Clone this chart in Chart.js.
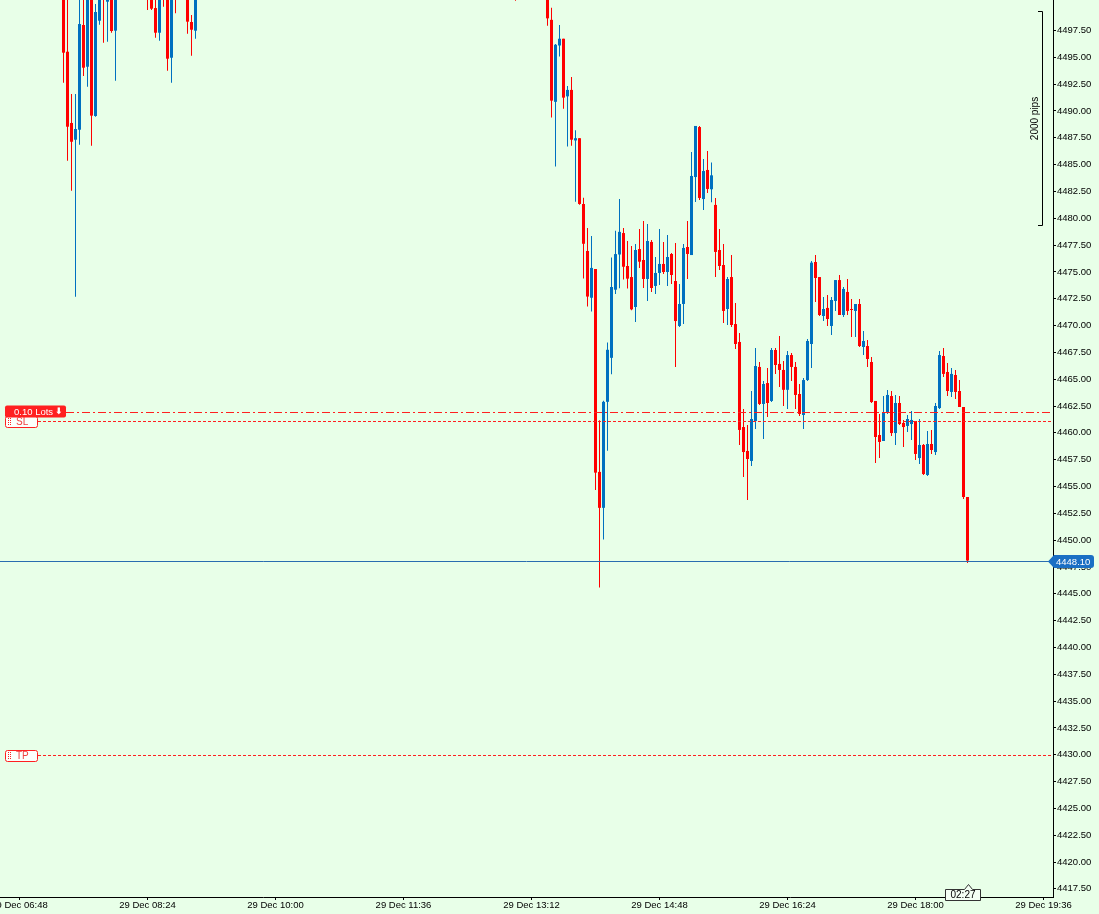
<!DOCTYPE html>
<html><head><meta charset="utf-8">
<script src="https://cdn.jsdelivr.net/npm/chart.js@4.4.1/dist/chart.umd.min.js"></script>
<style>html,body{margin:0;padding:0;background:#e8ffe8;overflow:hidden}canvas{display:block}</style>
</head><body><canvas id="c" width="1099" height="914"></canvas>
<script>
// ---------- data (3-minute bars, 29 Dec) ----------
const barTimes = [
'07:21','07:24','07:27','07:30','07:33','07:36','07:39','07:42','07:45','07:48','07:51','07:54','07:57','08:00',
'08:24','08:27','08:30','08:33','08:36','08:39','08:42','08:45',
'08:54','08:57','09:00',
'13:00',
'13:24','13:27','13:30','13:33','13:36','13:39','13:42','13:45','13:48','13:51','13:54','13:57',
'14:00','14:03','14:06','14:09','14:12','14:15','14:18','14:21','14:24','14:27','14:30','14:33','14:36','14:39','14:42','14:45','14:48','14:51','14:54','14:57',
'15:00','15:03','15:06','15:09','15:12','15:15','15:18','15:21','15:24','15:27','15:30','15:33','15:36','15:39','15:42','15:45','15:48','15:51','15:54','15:57',
'16:00','16:03','16:06','16:09','16:12','16:15','16:18','16:21','16:24','16:27','16:30','16:33','16:36','16:39','16:42','16:45','16:48','16:51','16:54','16:57',
'17:00','17:03','17:06','17:09','17:12','17:15','17:18','17:21','17:24','17:27','17:30','17:33','17:36','17:39','17:42','17:45','17:48','17:51','17:54','17:57',
'18:00','18:03','18:06','18:09','18:12','18:15','18:18','18:21','18:24','18:27','18:30','18:33','18:36','18:39'
];
const openP = [
4502.0,4495.52,4488.88,4487.32,4488.25,4498.01,4494.12,4501.6,4489.53,4498.41,4502.0,4500.18,4501.5,4497.48,
4503.0,4502.0,4499.59,4497.29,4502.5,4501.8,4494.96,4502.5,
4502.0,4498.29,4497.48,
4502.0,
4502.0,4498.49,4490.85,4496.10,4496.73,4491.36,4491.96,4487.25,4487.46,4481.33,4476.95,4472.59,
4475.27,4456.36,4453.01,4462.89,4466.99,4473.34,4476.62,4478.62,4475.55,4474.52,4471.73,4477.13,4476.11,4474.34,4477.79,4473.69,4474.90,4475.74,4474.99,4476.67,
4474.15,4469.96,4472.01,4477.32,4476.57,4483.84,4488.50,4481.79,4484.50,4482.70,4481.24,4477.04,4475.64,4471.54,4474.52,4470.14,4468.47,4460.54,4458.31,4457.38,
4461.10,4466.14,4462.69,4464.64,4462.97,4467.72,4466.42,4465.86,4464.01,4467.25,4466.14,4463.62,4461.66,4464.92,4468.28,4475.92,4474.52,4470.89,4471.64,4469.96,
4472.29,4474.24,4470.98,4473.13,4471.54,4471.36,4472.01,4468.00,4468.09,4466.60,4462.97,4459.80,4459.24,4461.85,4463.43,4459.98,4462.78,4460.92,4460.64,4460.82,
4461.10,4457.65,4458.87,4456.07,4458.96,4458.21,4462.31,4467.16,4465.67,4463.81,4465.39,4463.90,4462.41,4454.02
];
const highP = [
4502.6,4502.0,4491.58,4491.58,4502.0,4501.5,4502.2,4502.4,4499.97,4502.0,4502.6,4502.0,4502.0,4501.8,
4503.5,4502.5,4501.0,4501.5,4503.0,4502.5,4501.5,4503.0,
4502.5,4498.94,4502.0,
4502.5,
4502.5,4499.62,4496.24,4498.02,4496.73,4492.32,4493.17,4488.21,4487.46,4481.90,4479.08,4478.34,
4475.27,4461.18,4463.00,4468.42,4476.33,4478.83,4481.79,4479.08,4477.87,4477.41,4477.60,4479.00,4479.74,4479.46,4477.97,4476.39,4479.00,4477.79,4478.44,4476.76,
4477.69,4473.87,4477.60,4479.74,4486.17,4488.60,4488.60,4485.52,4486.27,4485.20,4481.89,4479.00,4477.60,4474.52,4476.57,4472.10,4469.30,4462.22,4460.73,4463.90,
4467.91,4466.60,4464.83,4466.04,4467.91,4467.91,4469.03,4466.69,4467.63,4467.44,4466.60,4464.55,4465.11,4468.75,4476.02,4476.57,4474.52,4472.66,4472.85,4472.66,
4474.24,4474.71,4473.59,4474.34,4472.47,4472.01,4472.47,4469.49,4468.65,4467.07,4462.97,4461.76,4463.43,4463.99,4463.90,4463.53,4463.43,4461.20,4461.66,4462.03,
4461.10,4461.29,4458.96,4460.17,4460.27,4462.78,4467.63,4467.91,4466.51,4466.04,4465.86,4464.92,4462.41,4454.02
];
const lowP = [
4492.63,4485.36,4482.57,4472.69,4486.85,4493.26,4492.26,4486.76,4489.46,4498.04,4496.36,4496.45,4497.29,4492.82,
4499.41,4499.41,4496.83,4496.55,4499.72,4493.75,4492.63,4499.10,
4497.20,4495.15,4496.73,
4500.27,
4497.95,4489.39,4484.82,4495.07,4490.21,4486.68,4486.75,4481.54,4481.26,4474.38,4471.77,4471.31,
4454.68,4445.59,4450.05,4458.33,4465.46,4472.95,4473.48,4474.28,4473.45,4471.42,4470.33,4475.37,4473.50,4472.29,4473.13,4472.94,4473.78,4474.80,4473.68,4473.87,
4466.14,4469.86,4470.14,4474.34,4476.57,4481.51,4481.70,4480.77,4482.35,4481.50,4474.52,4475.18,4470.24,4470.05,4469.86,4467.81,4458.87,4455.88,4453.74,4456.91,
4460.36,4462.59,4459.43,4461.48,4462.87,4465.49,4464.27,4462.50,4462.22,4464.83,4462.22,4461.57,4460.36,4464.83,4466.04,4472.19,4470.89,4470.42,4469.96,4469.12,
4471.36,4470.98,4470.80,4470.98,4468.93,4468.93,4468.00,4467.25,4466.14,4462.78,4457.19,4457.65,4459.24,4461.76,4459.71,4458.87,4460.73,4458.68,4460.08,4459.33,
4457.47,4457.10,4456.07,4455.98,4458.03,4457.93,4462.22,4465.20,4463.43,4463.34,4463.15,4462.41,4453.84,4447.87
];
const closeP = [
4495.43,4488.53,4487.13,4488.32,4498.10,4494.03,4501.8,4489.56,4499.22,4501.2,4500.8,4501.5,4497.45,4501.2,
4501.0,4499.53,4497.29,4501.0,4501.5,4494.87,4501.0,4501.0,
4498.32,4497.57,4501.0,
4501.0,
4498.63,4490.96,4496.17,4496.73,4491.24,4491.96,4487.32,4487.46,4481.33,4477.62,4472.70,4475.37,
4456.29,4453.01,4462.89,4467.74,4473.59,4476.66,4478.73,4475.48,4474.37,4471.51,4477.04,4475.95,4474.34,4477.88,4473.50,4474.90,4475.74,4474.99,4476.39,4474.71,
4470.42,4472.01,4477.23,4476.67,4483.94,4488.60,4481.89,4484.40,4482.73,4484.00,4476.86,4475.55,4471.36,4474.34,4470.05,4468.28,4460.27,4458.21,4457.56,4461.29,
4466.23,4462.69,4464.55,4462.78,4467.72,4466.32,4465.86,4464.01,4467.25,4466.14,4463.53,4461.76,4464.92,4468.56,4475.86,4474.43,4470.98,4471.54,4470.61,4472.38,
4474.24,4470.98,4473.41,4471.36,4471.45,4472.01,4468.09,4468.56,4466.88,4462.87,4459.61,4459.15,4461.85,4463.53,4459.98,4462.78,4460.82,4460.54,4461.29,4461.20,
4458.03,4458.87,4456.16,4458.96,4458.40,4462.50,4467.25,4465.49,4463.90,4465.49,4463.81,4462.41,4454.02,4448.10
];
const priceTicks = [4417.5,4420,4422.5,4425,4427.5,4430,4432.5,4435,4437.5,4440,4442.5,4445,4447.5,4450,4452.5,4455,4457.5,4460,4462.5,4465,4467.5,4470,4472.5,4475,4477.5,4480,4482.5,4485,4487.5,4490,4492.5,4495,4497.5];
const timeTicks = ['06:48','08:24','10:00','11:36','13:12','14:48','16:24','18:00','19:36'];
const dateLabel = '29 Dec';
const lastPrice = 4448.10;
const orderPrice = 4461.90, orderLabel = '0.10 Lots';
const slPrice = 4461.06, tpPrice = 4430.00;
const rulerTop = 4499.35, rulerSpan = 20.0, rulerLabel = '2000 pips';
const countdownLabel = '02:27';

// ---------- build ----------
const toMin = s => { const p = s.split(':').map(Number); return p[0] * 60 + p[1]; };
const BG = '#e8ffe8', UP = '#0070c0', DOWN = '#ff0000', RED = '#ff2020';
const colors = barTimes.map((t, i) => closeP[i] >= openP[i] ? UP : DOWN);
const wickData = barTimes.map((t, i) => ({ x: toMin(t), y: [lowP[i], highP[i]] }));
const bodyData = barTimes.map((t, i) => ({ x: toMin(t), y: [openP[i], closeP[i]] }));
const FONT = 'Liberation Sans, Arial, sans-serif';

function roundRect(ctx, x, y, w, h, r) {
  ctx.beginPath();
  ctx.moveTo(x + r, y); ctx.lineTo(x + w - r, y); ctx.quadraticCurveTo(x + w, y, x + w, y + r);
  ctx.lineTo(x + w, y + h - r); ctx.quadraticCurveTo(x + w, y + h, x + w - r, y + h);
  ctx.lineTo(x + r, y + h); ctx.quadraticCurveTo(x, y + h, x, y + h - r);
  ctx.lineTo(x, y + r); ctx.quadraticCurveTo(x, y, x + r, y); ctx.closePath();
}

const overlay = {
  id: 'overlay',
  beforeDraw(c) {
    const ctx = c.ctx; ctx.save(); ctx.fillStyle = BG; ctx.fillRect(0, 0, c.width, c.height); ctx.restore();
  },
  afterDatasetsDraw(c) {
    const ctx = c.ctx, ys = c.scales.y, a = c.chartArea;
    const hline = (p, x0, color, dash) => {
      const yy = Math.round(ys.getPixelForValue(p)) + 0.5;
      ctx.save(); ctx.strokeStyle = color; ctx.lineWidth = 1; ctx.setLineDash(dash);
      ctx.beginPath(); ctx.moveTo(x0, yy); ctx.lineTo(a.right, yy); ctx.stroke(); ctx.restore();
    };
    hline(tpPrice, 38, RED, [3, 2]);
    hline(slPrice, 38, RED, [3, 2]);
    hline(orderPrice, 66, RED, [8, 3, 2, 3]);
    hline(lastPrice, 0, '#2a6db0', []);
  },
  afterDraw(c) {
    const ctx = c.ctx, ys = c.scales.y, xs = c.scales.x, a = c.chartArea;
    ctx.save();
    // SL / TP boxes
    const levelBox = (p, text) => {
      const yy = Math.round(ys.getPixelForValue(p)) + 0.5;
      roundRect(ctx, 5.5, yy - 5, 32, 11, 2);
      ctx.fillStyle = '#fbfffb'; ctx.fill(); ctx.strokeStyle = RED; ctx.lineWidth = 1; ctx.stroke();
      ctx.fillStyle = RED;
      for (let r = -3; r <= 3; r += 2) { ctx.fillRect(8, yy + r - 0.5, 1, 1); ctx.fillRect(10, yy + r - 0.5, 1, 1); }
      ctx.fillStyle = '#f04040'; ctx.font = '10px ' + FONT; ctx.textBaseline = 'middle'; ctx.textAlign = 'left';
      ctx.fillText(text, 16, yy + 0.5);
    };
    levelBox(tpPrice, 'TP');
    levelBox(slPrice, 'SL');
    // order tag
    const oy = Math.round(ys.getPixelForValue(orderPrice)) + 0.5;
    roundRect(ctx, 5, oy - 7, 61, 12, 2); ctx.fillStyle = RED; ctx.fill();
    ctx.fillStyle = '#ffffff'; ctx.font = '9.5px ' + FONT; ctx.textBaseline = 'middle'; ctx.textAlign = 'left';
    ctx.fillText(orderLabel, 14, oy - 0.5);
    ctx.font = 'bold 9px DejaVu Sans'; ctx.fillText('\u2B07', 55, oy - 0.5);
    // last price tag
    const ly = Math.round(ys.getPixelForValue(lastPrice)) + 0.5;
    ctx.beginPath();
    ctx.moveTo(1048, ly); ctx.lineTo(1054, ly - 6.5); ctx.lineTo(1091, ly - 6.5);
    ctx.quadraticCurveTo(1094, ly - 6.5, 1094, ly - 3.5); ctx.lineTo(1094, ly + 3.5);
    ctx.quadraticCurveTo(1094, ly + 6.5, 1091, ly + 6.5); ctx.lineTo(1054, ly + 6.5); ctx.closePath();
    ctx.fillStyle = '#1a6fc4'; ctx.fill();
    ctx.fillStyle = '#ffffff'; ctx.font = '9.5px ' + FONT; ctx.textAlign = 'left'; ctx.textBaseline = 'middle';
    ctx.fillText(lastPrice.toFixed(2), 1056, ly + 0.5);
    // ruler
    const rt = Math.round(ys.getPixelForValue(rulerTop)) + 0.5;
    const rb = Math.round(ys.getPixelForValue(rulerTop - rulerSpan)) + 0.5;
    ctx.strokeStyle = '#000'; ctx.lineWidth = 1; ctx.beginPath();
    ctx.moveTo(1038, rt); ctx.lineTo(1042.5, rt); ctx.lineTo(1042.5, rb); ctx.lineTo(1038, rb); ctx.stroke();
    ctx.save(); ctx.translate(1035, (rt + rb) / 2); ctx.rotate(-Math.PI / 2);
    ctx.fillStyle = '#000'; ctx.font = '10px ' + FONT; ctx.textAlign = 'center'; ctx.textBaseline = 'middle';
    ctx.fillText(rulerLabel, 0, 0); ctx.restore();
    // countdown box at last bar
    const cx = Math.round(xs.getPixelForValue(toMin(barTimes[barTimes.length - 1]))) + 0.5;
    const L = 945.5, R = 980.5, T = 889.5, B = 900.5;
    ctx.beginPath(); ctx.moveTo(L, T); ctx.lineTo(cx - 4, T); ctx.lineTo(cx, T - 5); ctx.lineTo(cx + 4, T);
    ctx.lineTo(R, T); ctx.lineTo(R, B); ctx.lineTo(L, B); ctx.closePath();
    ctx.fillStyle = '#f4fff4'; ctx.fill(); ctx.strokeStyle = '#333'; ctx.stroke();
    ctx.fillStyle = '#000'; ctx.font = '10px ' + FONT; ctx.textAlign = 'center'; ctx.textBaseline = 'middle';
    ctx.fillText(countdownLabel, (L + R) / 2, 895.5);
    ctx.restore();
  }
};

new Chart(document.getElementById('c').getContext('2d'), {
  type: 'bar',
  data: {
    datasets: [
      { label: 'wick', data: wickData, backgroundColor: colors, barThickness: 1, grouped: false, order: 2, clip: 0, borderWidth: 0, inflateAmount: 0 },
      { label: 'body', data: bodyData, backgroundColor: colors, barThickness: 3, minBarLength: 1, grouped: false, order: 1, clip: 0, borderWidth: 0, inflateAmount: 0 }
    ]
  },
  options: {
    responsive: false, animation: false, devicePixelRatio: 1,
    layout: { padding: 0 },
    plugins: { legend: { display: false }, tooltip: { enabled: false } },
    scales: {
      x: {
        type: 'linear', min: 393.375, max: 1183.125, offset: false,
        grid: { display: true, drawOnChartArea: false, drawTicks: true, tickLength: 3, color: '#000', offset: false },
        border: { display: true, color: '#000', width: 1 },
        ticks: { autoSkip: false, maxRotation: 0, minRotation: 0, padding: 0, color: '#000',
                 font: { size: 9.5, family: FONT },
                 callback: v => { const t = timeTicks.find(s => toMin(s) === v); return t ? dateLabel + ' ' + t : ''; } },
        afterBuildTicks: s => { s.ticks = timeTicks.map(t => ({ value: toMin(t) })); },
        afterFit: s => { s.height = 17; s.paddingLeft = 0; s.paddingRight = 0; }
      },
      y: {
        type: 'linear', position: 'right', min: 4416.74, max: 4500.34,
        grid: { display: true, drawOnChartArea: false, drawTicks: true, tickLength: 3, color: '#000' },
        border: { display: true, color: '#000', width: 1 },
        ticks: { autoSkip: false, padding: 1, color: '#000', font: { size: 9.5, family: FONT },
                 callback: v => Number(v).toFixed(2) },
        afterBuildTicks: s => { s.ticks = priceTicks.map(v => ({ value: v })); },
        afterFit: s => { s.width = 46; s.paddingTop = 0; s.paddingBottom = 0; }
      }
    }
  },
  plugins: [overlay]
});
</script>
</body></html>
